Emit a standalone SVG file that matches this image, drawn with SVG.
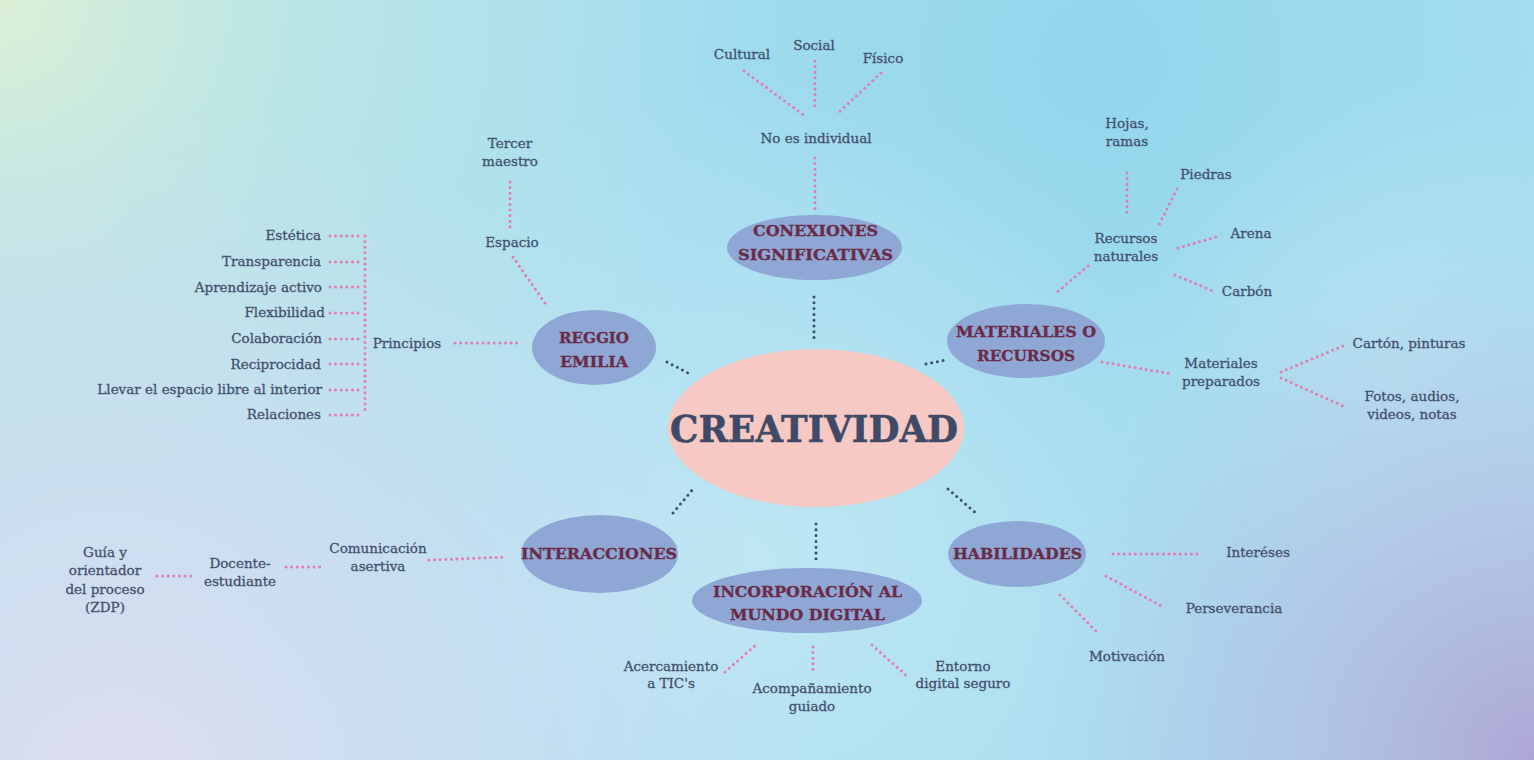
<svg xmlns="http://www.w3.org/2000/svg" width="1534" height="760" viewBox="0 0 1534 760">
<defs>
<radialGradient id="gTL" cx="0" cy="0" r="720" gradientUnits="userSpaceOnUse">
<stop offset="0" stop-color="#ddf0d6"/><stop offset="0.45" stop-color="#c2e8e2" stop-opacity="0.65"/><stop offset="1" stop-color="#c2e8e2" stop-opacity="0"/>
</radialGradient>
<radialGradient id="gBL" cx="120" cy="800" r="700" gradientUnits="userSpaceOnUse">
<stop offset="0" stop-color="#e1ddf0"/><stop offset="0.45" stop-color="#d6def1" stop-opacity="0.7"/><stop offset="1" stop-color="#d6def1" stop-opacity="0"/>
</radialGradient>
<radialGradient id="gBR" cx="1534" cy="760" r="520" gradientUnits="userSpaceOnUse">
<stop offset="0" stop-color="#aea6d5"/><stop offset="0.5" stop-color="#b5bde2" stop-opacity="0.65"/><stop offset="1" stop-color="#b5c6e6" stop-opacity="0"/>
</radialGradient>
<radialGradient id="gTR" cx="1100" cy="60" r="560" gradientUnits="userSpaceOnUse">
<stop offset="0" stop-color="#93d6ec"/><stop offset="1" stop-color="#93d6ec" stop-opacity="0"/>
</radialGradient>
<radialGradient id="gC" cx="760" cy="560" r="480" gradientUnits="userSpaceOnUse">
<stop offset="0" stop-color="#bee6f3"/><stop offset="1" stop-color="#bee6f3" stop-opacity="0"/>
</radialGradient>
<radialGradient id="gR" cx="1400" cy="380" r="300" gradientUnits="userSpaceOnUse">
<stop offset="0" stop-color="#b6e2f1"/><stop offset="1" stop-color="#b6e2f1" stop-opacity="0"/>
</radialGradient>
<style>
.lbl{font-family:"DejaVu Serif","Liberation Serif",serif;font-size:13.5px;fill:#434f6d;stroke:#434f6d;stroke-width:0.3;text-anchor:middle}
.end{text-anchor:end}
.ttl{font-family:"DejaVu Serif","Liberation Serif",serif;font-weight:bold;font-size:15.5px;fill:#6a2b49;stroke:#6a2b49;stroke-width:0.3;text-anchor:middle}
.big{font-family:"DejaVu Serif","Liberation Serif",serif;font-weight:bold;font-size:37px;fill:#3f4a68;stroke:#3f4a68;stroke-width:0.6;text-anchor:middle}
.node{fill:#8ea7d4}
.core{fill:#f7c9c4}
.pk{stroke:#e27bb0;stroke-width:3;stroke-linecap:round;stroke-dasharray:0 5.6;fill:none}
.dk{stroke:#3f4a68;stroke-width:3;stroke-linecap:round;stroke-dasharray:0 5.8;fill:none}
</style>
</defs>
<rect width="1534" height="760" fill="#a7def0"/>
<rect width="1534" height="760" fill="url(#gTR)"/>
<rect width="1534" height="760" fill="url(#gC)"/>
<rect width="1534" height="760" fill="url(#gR)"/>
<rect width="1534" height="760" fill="url(#gTL)"/>
<rect width="1534" height="760" fill="url(#gBL)"/>
<rect width="1534" height="760" fill="url(#gBR)"/>

<g id="connectors">
<path class="pk" d="M744 71L805 116M815 61L815 109M881 73L838 113M815 158L815 212"/>
<path class="pk" d="M510 182L510 229M513 257L547 306M455 343L519 343"/>
<path class="pk" d="M365 236L365 415M330 236L362 236M330 262L362 262M330 287L362 287M330 313L362 313M330 339L362 339M330 364L362 364M330 390L362 390M330 415L362 415"/>
<path class="pk" d="M1127 173L1127 214M1177 189L1158 227M1178 248L1219 236M1175 275L1213 291M1088 266L1056 293"/>
<path class="pk" d="M1102 362L1173 374M1281 372L1343 346M1281 378L1343 406"/>
<path class="pk" d="M429 560L506 557M286 567L323 567M157 576L194 576"/>
<path class="pk" d="M725 672L757 644M813 647L813 672M872 645L908 677"/>
<path class="pk" d="M1113 554L1197 554M1106 576L1163 607M1060 595L1098 633"/>
<path class="dk" d="M814 297L814 338M667 362L690 374M926 364L946 360M673 513L693 489M948 489L977 514M816 524L816 561"/>
</g>

<g id="creatividad">
<ellipse class="core" cx="816" cy="428" rx="148" ry="79"/>
<text class="big" x="814" y="442" textLength="288" lengthAdjust="spacingAndGlyphs">CREATIVIDAD</text>
</g>
<g id="conexiones">
<ellipse class="node" cx="814.5" cy="247.5" rx="87.5" ry="32.5"/>
<text class="ttl" x="815.5" y="236" textLength="125" lengthAdjust="spacingAndGlyphs">CONEXIONES</text>
<text class="ttl" x="815.5" y="260" textLength="155" lengthAdjust="spacingAndGlyphs">SIGNIFICATIVAS</text>
</g>
<g id="reggio">
<ellipse class="node" cx="594" cy="347.5" rx="62" ry="37.5"/>
<text class="ttl" x="594" y="343" textLength="70" lengthAdjust="spacingAndGlyphs">REGGIO</text>
<text class="ttl" x="594" y="367" textLength="68" lengthAdjust="spacingAndGlyphs">EMILIA</text>
</g>
<g id="materiales">
<ellipse class="node" cx="1026" cy="341" rx="79" ry="37"/>
<text class="ttl" x="1026" y="337" textLength="140" lengthAdjust="spacingAndGlyphs">MATERIALES O</text>
<text class="ttl" x="1026" y="361" textLength="98" lengthAdjust="spacingAndGlyphs">RECURSOS</text>
</g>
<g id="interacciones">
<ellipse class="node" cx="599.5" cy="554" rx="78.5" ry="39"/>
<text class="ttl" x="599" y="559" textLength="156" lengthAdjust="spacingAndGlyphs">INTERACCIONES</text>
</g>
<g id="incorporacion">
<ellipse class="node" cx="807" cy="600.5" rx="115" ry="32.5"/>
<text class="ttl" x="807.5" y="597" textLength="189" lengthAdjust="spacingAndGlyphs">INCORPORACIÓN AL</text>
<text class="ttl" x="807.5" y="620" textLength="155" lengthAdjust="spacingAndGlyphs">MUNDO DIGITAL</text>
</g>
<g id="habilidades">
<ellipse class="node" cx="1017" cy="554" rx="69" ry="33"/>
<text class="ttl" x="1017.5" y="559" textLength="129" lengthAdjust="spacingAndGlyphs">HABILIDADES</text>
</g>

<g id="cultural"><text class="lbl" x="742" y="59">Cultural</text></g>
<g id="social"><text class="lbl" x="814" y="50">Social</text></g>
<g id="fisico"><text class="lbl" x="883" y="63">Físico</text></g>
<g id="no-es-individual"><text class="lbl" x="816" y="143">No es individual</text></g>

<g id="tercer-maestro"><text class="lbl" x="510" y="148">Tercer</text><text class="lbl" x="510" y="166">maestro</text></g>
<g id="espacio"><text class="lbl" x="512" y="247">Espacio</text></g>
<g id="principios"><text class="lbl" x="407" y="348">Principios</text></g>
<g id="estetica"><text class="lbl end" x="321" y="240">Estética</text></g>
<g id="transparencia"><text class="lbl end" x="321" y="266">Transparencia</text></g>
<g id="aprendizaje"><text class="lbl end" x="322" y="292">Aprendizaje activo</text></g>
<g id="flexibilidad"><text class="lbl end" x="325" y="317">Flexibilidad</text></g>
<g id="colaboracion"><text class="lbl end" x="322" y="343">Colaboración</text></g>
<g id="reciprocidad"><text class="lbl end" x="321" y="369">Reciprocidad</text></g>
<g id="llevar"><text class="lbl end" x="322" y="394">Llevar el espacio libre al interior</text></g>
<g id="relaciones"><text class="lbl end" x="321" y="419">Relaciones</text></g>

<g id="hojas"><text class="lbl" x="1127" y="128">Hojas,</text><text class="lbl" x="1127" y="146">ramas</text></g>
<g id="piedras"><text class="lbl" x="1206" y="179">Piedras</text></g>
<g id="recursos-naturales"><text class="lbl" x="1126" y="243">Recursos</text><text class="lbl" x="1126" y="261">naturales</text></g>
<g id="arena"><text class="lbl" x="1251" y="238">Arena</text></g>
<g id="carbon"><text class="lbl" x="1247" y="296">Carbón</text></g>
<g id="materiales-preparados"><text class="lbl" x="1221" y="368">Materiales</text><text class="lbl" x="1221" y="386">preparados</text></g>
<g id="carton"><text class="lbl" x="1409" y="348">Cartón, pinturas</text></g>
<g id="fotos"><text class="lbl" x="1412" y="401">Fotos, audios,</text><text class="lbl" x="1412" y="419">videos, notas</text></g>

<g id="comunicacion"><text class="lbl" x="378" y="553">Comunicación</text><text class="lbl" x="378" y="571">asertiva</text></g>
<g id="docente"><text class="lbl" x="240" y="568">Docente-</text><text class="lbl" x="240" y="586">estudiante</text></g>
<g id="guia"><text class="lbl" x="105" y="557">Guía y</text><text class="lbl" x="105" y="575">orientador</text><text class="lbl" x="105" y="594">del proceso</text><text class="lbl" x="105" y="612">(ZDP)</text></g>

<g id="acercamiento"><text class="lbl" x="671" y="671">Acercamiento</text><text class="lbl" x="671" y="688">a TIC's</text></g>
<g id="acompanamiento"><text class="lbl" x="812" y="693">Acompañamiento</text><text class="lbl" x="812" y="711">guiado</text></g>
<g id="entorno"><text class="lbl" x="963" y="671">Entorno</text><text class="lbl" x="963" y="688">digital seguro</text></g>

<g id="intereses"><text class="lbl" x="1258" y="557">Interéses</text></g>
<g id="perseverancia"><text class="lbl" x="1234" y="613">Perseverancia</text></g>
<g id="motivacion"><text class="lbl" x="1127" y="661">Motivación</text></g>
</svg>
